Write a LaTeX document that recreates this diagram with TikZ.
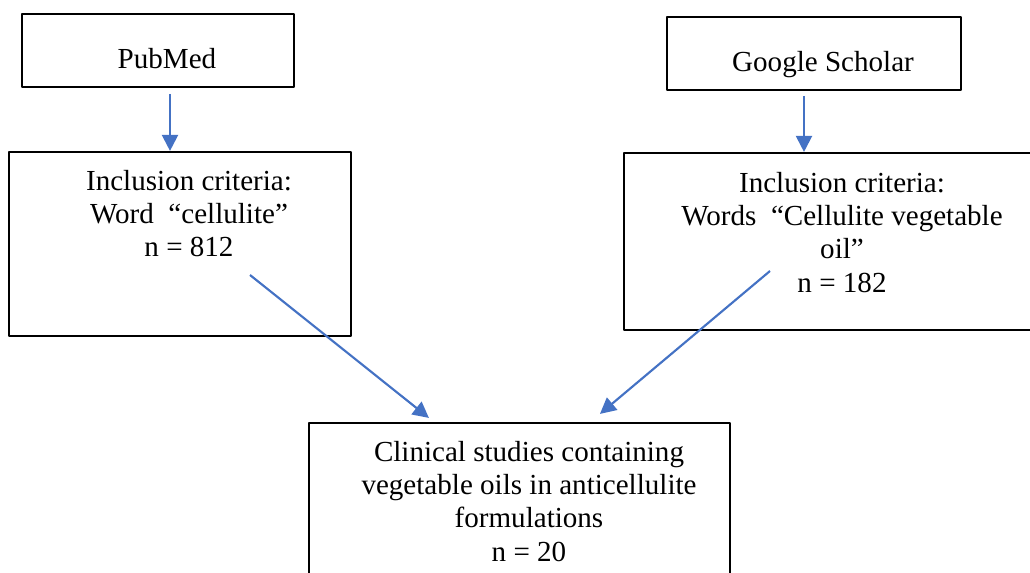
\documentclass[tikz,border=0pt]{standalone}
\usepackage{fontspec}
\setmainfont{Liberation Serif}
\usetikzlibrary{arrows.meta,calc}
\definecolor{arrowblue}{HTML}{4472C4}
\begin{document}
\begin{tikzpicture}[x=0.75pt,y=-0.75pt,line join=round,
    font=\fontsize{21.8}{24.8}\selectfont,
    box/.style={draw,line width=1.6pt,inner sep=0pt},
    txt/.style={align=center,inner sep=0pt},
    arr/.style={draw=arrowblue,line width=1.6pt,-{Triangle[length=12pt,width=12pt]}}]
    \useasboundingbox (0,0) rectangle (1030,573);
    \def \px{0.75pt}
    % boxes
    \node[box,minimum width=272*\px,minimum height=73*\px] (pubmed) at (158,50.5) {};
    \node[box,minimum width=294*\px,minimum height=73*\px] (scholar) at (814,53.5) {};
    \node[box,minimum width=342*\px,minimum height=184*\px] (incl1) at (180,244) {};
    \node[box,minimum width=421*\px,minimum height=177*\px] (incl2) at (834.5,241.5) {};
    \node[box,minimum width=421*\px,minimum height=167*\px] (clinical) at (519.5,506.5) {};
    % texts
    \node[txt] (pubmed-txt) at (167,59) {PubMed};
    \node[txt] (scholar-txt) at (823,65) {Google Scholar};
    \node[txt] (incl1-txt) at (189,213.5) {Inclusion criteria:\\Word\ \ “cellulite”\\n = 812};
    \node[txt] (incl2-txt) at (842,232.5) {Inclusion criteria:\\Words\ \ “Cellulite vegetable\\oil”\\n = 182};
    \node[txt] (clinical-txt) at (529,501.5) {Clinical studies containing\\vegetable oils in anticellulite\\formulations\\n = 20};
    % arrows
    \coordinate (p1) at (170,94);
    \coordinate (s1) at (804,96);
    \coordinate (d1) at (250,275);
    \coordinate (d2) at (770,271);
    \draw[arr] (p1) -- (p1 |- incl1.north);
    \draw[arr] (s1) -- (s1 |- incl2.north);
    \draw[arr] (d1) -- ($(clinical.north west)+(121,-4)$);
    \draw[arr] (d2) -- ($(clinical.north west)+(292,-8)$);
\end{tikzpicture}
\end{document}
